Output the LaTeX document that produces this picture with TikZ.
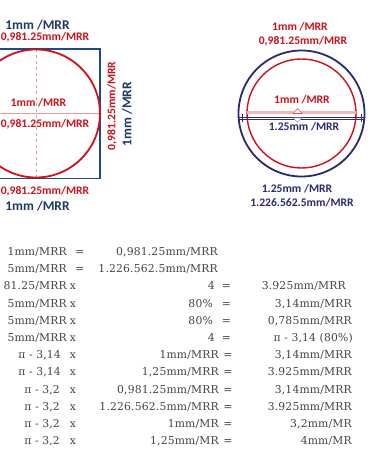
\documentclass[tikz,border=0pt]{standalone}
\usepackage{fontspec}
\newfontfamily\calfont{Carlito}
\newfontfamily\tabfont{DejaVu Serif}[LetterSpace=1.5]
\definecolor{sqblue}{HTML}{1F4A86}
\definecolor{txblue}{HTML}{1F3864}
\definecolor{navy}{HTML}{2B2A6E}
\definecolor{myred}{HTML}{D0101A}
\definecolor{lightred}{HTML}{E99A9A}
\definecolor{bandred}{HTML}{F2B8B8}
\definecolor{txtgrey}{HTML}{444444}
\tikzset{
  lbl/.style={font=\calfont\bfseries, inner sep=0pt},
  bigblue/.style={lbl, text=txblue, font=\calfont\bfseries\fontsize{13.4}{15}\selectfont},
  redlbl/.style={lbl, text=myred, font=\calfont\bfseries\fontsize{11.6}{13}\selectfont},
  navylbl/.style={lbl, text=navy, font=\calfont\bfseries\fontsize{11.6}{13}\selectfont},
  tb/.style={font=\tabfont\fontsize{10.8}{12}\selectfont, text=txtgrey, inner sep=0pt, anchor=base east},
  tbc/.style={font=\tabfont\fontsize{10.8}{12}\selectfont, text=txtgrey, inner sep=0pt, anchor=base}
}
\begin{document}
\begin{tikzpicture}[x=1pt,y=-1pt]
\useasboundingbox (0,0) rectangle (375,457);
\clip (0,0) rectangle (375,457);
\fill[white] (0,0) rectangle (375,457);
% ---------- left figure ----------
\coordinate (lc) at (36,113.5);
\draw[lightred, line width=0.5pt] (-30,113.5) -- (100,113.5);
\draw[lightred, dashed, line width=0.5pt] (36,49) -- (36,178);
\draw[sqblue, line width=1.4pt] (-30,49) rectangle (100,178.5);
\draw[myred, line width=1.8pt] (lc) circle (64pt);
\node[bigblue] (lt1) at (37.5,25) {1mm /MRR};
\node[redlbl] (lt2) at (45,37.5) {0,981.25mm/MRR};
\node[redlbl] (li1) at (38.5,103) {1mm /MRR};
\node[redlbl] (li2) at (45,124) {0,981.25mm/MRR};
\node[redlbl] (lb1) at (45,191) {0,981.25mm/MRR};
\node[bigblue] (lb2) at (37.5,206) {1mm /MRR};
\node[redlbl, rotate=90] (lv1) at (112,106) {0,981.25mm/MRR};
\node[bigblue, rotate=90] (lv2) at (127,114) {1mm /MRR};
% ---------- right figure ----------
\coordinate (rc) at (301.5,113.5);
\draw[navy, line width=1.8pt] (rc) circle (63pt);
\draw[myred, line width=1.4pt] (rc) circle (54.5pt);
\draw[bandred, line width=3pt] (247,113) -- (356,113);
\draw[navy, line width=0.6pt] (239,117) -- (364,117);
\draw[navy, line width=0.6pt] (239,119.5) -- (364,119.5);
\draw[navy, line width=0.8pt] (242,114) -- (242,122);
\draw[navy, line width=0.8pt] (361,114) -- (361,122);
\draw[myred!70, fill=white, line width=0.6pt] (293,113.5) -- (297.5,108.5) -- (302,113.5) -- cycle;
\draw[navy!50, fill=white, line width=0.5pt] (293,118) -- (297.5,122) -- (302,118) -- cycle;
\node[redlbl] (rt1) at (300,27) {1mm /MRR};
\node[redlbl] (rt2) at (303,41) {0,981.25mm/MRR};
\node[redlbl] (ri1) at (302,100) {1mm /MRR};
\node[navylbl] (ri2) at (304,126.5) {1.25mm /MRR};
\node[navylbl] (rb1) at (297,189) {1.25mm /MRR};
\node[navylbl] (rb2) at (302,202.5) {1.226.562.5mm/MRR};
% ---------- table ----------
% row 1
\node[tb] (a1) at (67,255.5) {1mm/MRR};
\node[tbc] (e1) at (80,255.5) {=};
\node[tb] (b1) at (218,255.5) {0,981.25mm/MRR};
% row 2
\node[tb] (a2) at (67,272.7) {5mm/MRR};
\node[tbc] (e2) at (80,272.7) {=};
\node[tb] (b2) at (218,272.7) {1.226.562.5mm/MRR};
% row 3
\node[tb] (a3) at (67,289.9) {81.25/MRR};
\node[tbc] (x3) at (73,289.9) {x};
\node[tb] (b3) at (215,289.9) {4};
\node[tbc] (e3) at (226.5,289.9) {=};
\node[tb] (c3) at (346,289.9) {3.925mm/MRR};
% row 4
\node[tb] (a4) at (67,307.1) {5mm/MRR};
\node[tbc] (x4) at (73,307.1) {x};
\node[tb] (b4) at (213,307.1) {80\%};
\node[tbc] (e4) at (226.5,307.1) {=};
\node[tb] (c4) at (352,307.1) {3,14mm/MRR};
% row 5
\node[tb] (a5) at (67,324.3) {5mm/MRR};
\node[tbc] (x5) at (73,324.3) {x};
\node[tb] (b5) at (213,324.3) {80\%};
\node[tbc] (e5) at (226.5,324.3) {=};
\node[tb] (c5) at (352,324.3) {0,785mm/MRR};
% row 6
\node[tb] (a6) at (67,341.5) {5mm/MRR};
\node[tbc] (x6) at (73,341.5) {x};
\node[tb] (b6) at (215,341.5) {4};
\node[tbc] (e6) at (226.5,341.5) {=};
\node[tb] (c6) at (353,341.5) {π - 3,14 (80\%)};
% row 7
\node[tb] (a7) at (61,358.7) {π - 3,14};
\node[tbc] (x7) at (73,358.7) {x};
\node[tb] (b7) at (219,358.7) {1mm/MRR};
\node[tbc] (e7) at (228,358.7) {=};
\node[tb] (c7) at (352,358.7) {3,14mm/MRR};
% row 8
\node[tb] (a8) at (61,375.9) {π - 3,14};
\node[tbc] (x8) at (73,375.9) {x};
\node[tb] (b8) at (219,375.9) {1,25mm/MRR};
\node[tbc] (e8) at (228,375.9) {=};
\node[tb] (c8) at (352,375.9) {3.925mm/MRR};
% row 9
\node[tb] (a9) at (60,393.1) {π - 3,2};
\node[tbc] (x9) at (73,393.1) {x};
\node[tb] (b9) at (219,393.1) {0,981.25mm/MRR};
\node[tbc] (e9) at (228,393.1) {=};
\node[tb] (c9) at (352,393.1) {3,14mm/MRR};
% row 10
\node[tb] (a10) at (60,410.3) {π - 3,2};
\node[tbc] (x10) at (73,410.3) {x};
\node[tb] (b10) at (219,410.3) {1.226.562.5mm/MRR};
\node[tbc] (e10) at (228,410.3) {=};
\node[tb] (c10) at (352,410.3) {3.925mm/MRR};
% row 11
\node[tb] (a11) at (60,427.5) {π - 3,2};
\node[tbc] (x11) at (73,427.5) {x};
\node[tb] (b11) at (219,427.5) {1mm/MR};
\node[tbc] (e11) at (228,427.5) {=};
\node[tb] (c11) at (352,427.5) {3,2mm/MR};
% row 12
\node[tb] (a12) at (60,444.7) {π - 3,2};
\node[tbc] (x12) at (73,444.7) {x};
\node[tb] (b12) at (219,444.7) {1,25mm/MR};
\node[tbc] (e12) at (228,444.7) {=};
\node[tb] (c12) at (352,444.7) {4mm/MR};
\end{tikzpicture}
\end{document}
